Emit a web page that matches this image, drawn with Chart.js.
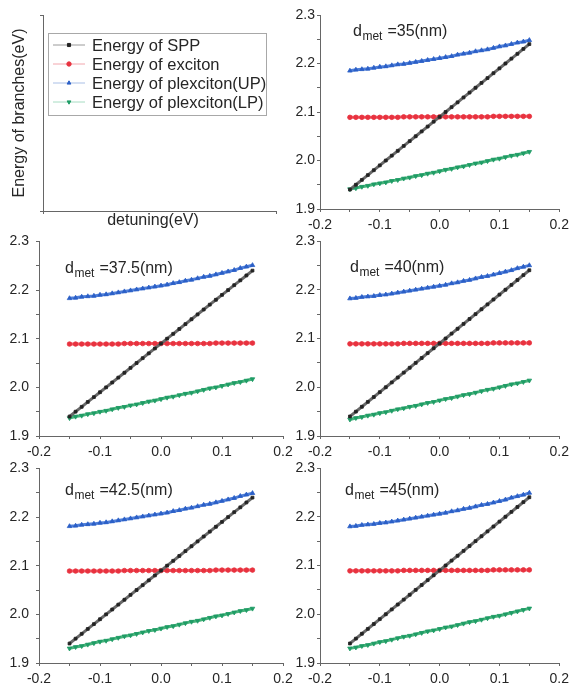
<!DOCTYPE html>
<html>
<head>
<meta charset="utf-8">
<script src="https://cdn.jsdelivr.net/npm/chart.js@4.4.1/dist/chart.umd.min.js"></script>
<style>
  html, body { margin: 0; padding: 0; background: #fff; overflow: hidden; }
  #wrap { position: relative; width: 574px; height: 684px; }
  canvas { position: absolute; }
</style>
</head>
<body>
<div id="wrap">
  <canvas id="legend-panel"></canvas>
  <canvas id="p35"></canvas>
  <canvas id="p37"></canvas>
  <canvas id="p40"></canvas>
  <canvas id="p42"></canvas>
  <canvas id="p45"></canvas>
</div>
<script>
// ==================================== data
const detuning = [-0.15, -0.14, -0.13, -0.12, -0.11, -0.10, -0.09, -0.08, -0.07, -0.06, -0.05, -0.04, -0.03, -0.02, -0.01, 0,
  0.01, 0.02, 0.03, 0.04, 0.05, 0.06, 0.07, 0.08, 0.09, 0.10, 0.11, 0.12, 0.13, 0.14, 0.15]

const energySPP = [1.94, 1.95, 1.96, 1.97, 1.98, 1.99, 2.00, 2.01, 2.02, 2.03, 2.04, 2.05, 2.06, 2.07, 2.08, 2.09,
  2.10, 2.11, 2.12, 2.13, 2.14, 2.15, 2.16, 2.17, 2.18, 2.19, 2.20, 2.21, 2.22, 2.23, 2.24]

const energyExciton = [2.089, 2.089, 2.089, 2.089, 2.089, 2.089, 2.089, 2.089, 2.089, 2.090, 2.090, 2.090, 2.090, 2.090, 2.090, 2.090,
  2.090, 2.090, 2.090, 2.090, 2.090, 2.090, 2.090, 2.090, 2.091, 2.091, 2.091, 2.091, 2.091, 2.091, 2.091]

const upper35 = [2.185, 2.187, 2.188, 2.189, 2.191, 2.193, 2.194, 2.196, 2.198, 2.199, 2.201, 2.203, 2.205, 2.207, 2.209, 2.211,
  2.213, 2.215, 2.218, 2.220, 2.222, 2.225, 2.227, 2.229, 2.232, 2.235, 2.237, 2.240, 2.243, 2.245, 2.248]
const lower35 = [1.941, 1.943, 1.946, 1.948, 1.951, 1.953, 1.955, 1.958, 1.960, 1.963, 1.965, 1.968, 1.970, 1.973, 1.975, 1.978,
  1.981, 1.983, 1.986, 1.988, 1.991, 1.994, 1.996, 1.999, 2.002, 2.004, 2.007, 2.010, 2.012, 2.015, 2.018]

const upper37_5 = [2.183, 2.184, 2.186, 2.187, 2.188, 2.190, 2.191, 2.193, 2.195, 2.197, 2.199, 2.201, 2.203, 2.205, 2.207, 2.209,
  2.211, 2.214, 2.216, 2.219, 2.221, 2.224, 2.227, 2.229, 2.232, 2.235, 2.238, 2.241, 2.245, 2.248, 2.251]
const lower37_5 = [1.937, 1.940, 1.942, 1.945, 1.947, 1.950, 1.952, 1.955, 1.958, 1.960, 1.963, 1.965, 1.968, 1.971, 1.973, 1.976,
  1.979, 1.981, 1.984, 1.987, 1.989, 1.992, 1.995, 1.998, 2.000, 2.003, 2.006, 2.009, 2.011, 2.014, 2.017]

const upper40 = [2.182, 2.183, 2.185, 2.186, 2.187, 2.189, 2.190, 2.192, 2.194, 2.196, 2.198, 2.200, 2.202, 2.204, 2.206, 2.208,
  2.210, 2.213, 2.215, 2.218, 2.220, 2.223, 2.226, 2.228, 2.231, 2.234, 2.237, 2.240, 2.244, 2.247, 2.250]
const lower40 = [1.934, 1.937, 1.939, 1.942, 1.944, 1.947, 1.949, 1.952, 1.955, 1.957, 1.960, 1.962, 1.965, 1.968, 1.970, 1.973,
  1.976, 1.978, 1.981, 1.984, 1.986, 1.989, 1.992, 1.995, 1.997, 2.000, 2.003, 2.006, 2.008, 2.011, 2.014]

const upper42_5 = [2.181, 2.182, 2.184, 2.185, 2.186, 2.188, 2.189, 2.191, 2.193, 2.195, 2.197, 2.199, 2.201, 2.203, 2.205, 2.207,
  2.209, 2.212, 2.214, 2.217, 2.219, 2.222, 2.225, 2.227, 2.230, 2.233, 2.236, 2.239, 2.243, 2.246, 2.249]
const lower42_5 = [1.930, 1.933, 1.935, 1.938, 1.941, 1.944, 1.946, 1.949, 1.952, 1.955, 1.957, 1.960, 1.963, 1.966, 1.968, 1.971,
  1.974, 1.976, 1.979, 1.982, 1.985, 1.987, 1.990, 1.993, 1.996, 1.998, 2.001, 2.004, 2.007, 2.009, 2.012]

const upper45 = [2.180, 2.181, 2.183, 2.184, 2.185, 2.187, 2.188, 2.190, 2.192, 2.194, 2.196, 2.198, 2.200, 2.202, 2.204, 2.206,
  2.208, 2.211, 2.213, 2.216, 2.218, 2.221, 2.224, 2.226, 2.229, 2.232, 2.235, 2.239, 2.242, 2.245, 2.249]
const lower45 = [1.930, 1.932, 1.935, 1.937, 1.940, 1.943, 1.945, 1.948, 1.951, 1.954, 1.956, 1.959, 1.962, 1.965, 1.967, 1.970,
  1.973, 1.975, 1.978, 1.981, 1.984, 1.986, 1.989, 1.992, 1.995, 1.997, 2.000, 2.003, 2.006, 2.009, 2.012]

const seriesNames = ['Energy of SPP', 'Energy of exciton', 'Energy of plexciton(UP)', 'Energy of plexciton(LP)']
const xTickLabels = ['-0.2', '-0.1', '0.0', '0.1', '0.2']
const yTickLabels = ['1.9', '2.0', '2.1', '2.2', '2.3']

// ==================================== styles / layout
const FONT = '"Liberation Sans", Arial, Helvetica, sans-serif'
const TEXT = '#262626'
const AXIS = '#666'

const seriesStyles = [
  { color: '#232323', line: 'rgba(90,90,90,0.9)', legendLine: '#9a9a9a', pointStyle: 'rect', radius: 2, rotation: 0 },
  { color: '#e8323f', line: 'rgba(240,90,100,0.95)', legendLine: '#f2a6ad', pointStyle: 'circle', radius: 2.3, rotation: 0 },
  { color: '#2b5fc7', line: 'rgba(70,120,215,0.95)', legendLine: '#a9bfe6', pointStyle: 'triangle', radius: 2.6, rotation: 0 },
  { color: '#1f9c66', line: 'rgba(60,175,115,0.95)', legendLine: '#a6dcc2', pointStyle: 'triangle', radius: 2.6, rotation: 180 },
]

const panels = [
  { id: 'p35', value: '35', up: upper35, lp: lower35, left: 287, top: 0, width: 287, yAxisW: 33, tickPad: 2, padRight: 11, plotH: 194, dx: 33, dy: 21 },
  { id: 'p37', value: '37.5', up: upper37_5, lp: lower37_5, left: 0, top: 226, width: 300, yAxisW: 39, tickPad: 7, padRight: 17, plotH: 195, dx: 26, dy: 32 },
  { id: 'p40', value: '40', up: upper40, lp: lower40, left: 287, top: 226, width: 287, yAxisW: 33, tickPad: 2, padRight: 11, plotH: 195, dx: 30, dy: 31 },
  { id: 'p42', value: '42.5', up: upper42_5, lp: lower42_5, left: 0, top: 453, width: 300, yAxisW: 39, tickPad: 7, padRight: 17, plotH: 195, dx: 26, dy: 27 },
  { id: 'p45', value: '45', up: upper45, lp: lower45, left: 287, top: 453, width: 287, yAxisW: 33, tickPad: 2, padRight: 11, plotH: 195, dx: 25, dy: 27 },
]

const PAD_TOP = 15
const X_AXIS_H = 24

function placeCanvas(canvas, left, top, width, height) {
  canvas.width = width
  canvas.height = height
  canvas.style.left = left + 'px'
  canvas.style.top = top + 'px'
  canvas.style.width = width + 'px'
  canvas.style.height = height + 'px'
}

function tickLabel(value, labels, min) {
  const idx = Math.round((value - min) * 10)
  if (Math.abs((value - min) * 10 - idx) > 1e-6) return ''
  return labels[idx] ?? ''
}

// d_met label inside each panel
const panelLabel = {
  id: 'panelLabel',
  afterDraw(chart, args, opts) {
    const { ctx, chartArea } = chart
    let x = chartArea.left + opts.dx
    const y = chartArea.top + opts.dy
    ctx.save()
    ctx.fillStyle = TEXT
    ctx.textBaseline = 'alphabetic'
    ctx.font = `16px ${FONT}`
    ctx.fillText('d', x, y)
    x += ctx.measureText('d').width + 0.5
    ctx.font = `12px ${FONT}`
    ctx.fillText('met', x, y + 4)
    x += ctx.measureText('met').width + 5
    ctx.font = `16px ${FONT}`
    ctx.fillText('=' + opts.value + '(nm)', x, y)
    ctx.restore()
  }
}

function makeDataset(label, values, style) {
  return {
    label,
    data: detuning.map((d, i) => ({ x: d, y: values[i] })),
    borderColor: style.line,
    borderWidth: 3,
    backgroundColor: style.color,
    pointBorderColor: style.color,
    pointBackgroundColor: style.color,
    pointStyle: style.pointStyle,
    pointRotation: style.rotation,
    pointRadius: style.radius,
    pointBorderWidth: 0.8,
    tension: 0,
  }
}

panels.forEach(p => {
  const canvas = document.getElementById(p.id)
  placeCanvas(canvas, p.left, p.top, p.width, PAD_TOP + p.plotH + X_AXIS_H)
  const series = [energySPP, energyExciton, p.up, p.lp]
  new Chart(canvas, {
    type: 'line',
    data: { datasets: series.map((s, i) => makeDataset(seriesNames[i], s, seriesStyles[i])) },
    plugins: [panelLabel],
    options: {
      responsive: false,
      animation: false,
      layout: { autoPadding: false, padding: { top: PAD_TOP, right: p.padRight, left: 0, bottom: 0 } },
      plugins: {
        legend: { display: false },
        tooltip: { enabled: false },
        panelLabel: { dx: p.dx, dy: p.dy, value: p.value },
      },
      scales: {
        x: {
          type: 'linear',
          min: -0.2,
          max: 0.2,
          afterFit: s => { s.height = X_AXIS_H },
          border: { display: true, color: AXIS, width: 1 },
          grid: { drawOnChartArea: false, drawTicks: true, tickLength: 3, tickColor: AXIS },
          ticks: {
            stepSize: 0.05,
            autoSkip: false,
            maxRotation: 0,
            padding: 5,
            color: TEXT,
            font: { family: FONT, size: 14 },
            callback: v => tickLabel(v, xTickLabels, -0.2),
          },
        },
        y: {
          min: 1.9,
          max: 2.3,
          afterFit: s => { s.width = p.yAxisW },
          border: { display: true, color: AXIS, width: 1 },
          grid: { drawOnChartArea: false, drawTicks: true, tickLength: 3, tickColor: AXIS },
          ticks: {
            stepSize: 0.05,
            autoSkip: false,
            padding: p.tickPad,
            color: TEXT,
            font: { family: FONT, size: 14 },
            callback: v => tickLabel(v, yTickLabels, 1.9),
          },
        },
      },
    },
  })
})

// ==================================== legend panel (top-left)
const legendBox = {
  id: 'legendBox',
  afterDraw(chart) {
    const { ctx, chartArea } = chart
    ctx.save()
    // axis titles
    ctx.fillStyle = TEXT
    ctx.font = `16px ${FONT}`
    ctx.textAlign = 'center'
    ctx.textBaseline = 'middle'
    ctx.fillText('detuning(eV)', 153, 221)
    ctx.translate(20, (chartArea.top + chartArea.bottom) / 2)
    ctx.rotate(-Math.PI / 2)
    ctx.fillText('Energy of branches(eV)', 0, 0)
    ctx.setTransform(1, 0, 0, 1, 0, 0)

    // legend frame
    ctx.strokeStyle = '#a8a8a8'
    ctx.lineWidth = 1
    ctx.strokeRect(48.5, 33.5, 218, 82)
    ctx.textAlign = 'left'
    ctx.font = `16.5px ${FONT}`
    chart.data.datasets.forEach((ds, i) => {
      const st = seriesStyles[i]
      const y = 45 + i * 19
      ctx.strokeStyle = st.legendLine
      ctx.beginPath()
      ctx.moveTo(53, y)
      ctx.lineTo(85, y)
      ctx.stroke()
      ctx.fillStyle = st.color
      ctx.strokeStyle = st.color
      Chart.helpers.drawPoint(ctx, { pointStyle: st.pointStyle, rotation: st.rotation, radius: 2.2, borderWidth: 0.5 }, 69, y)
      ctx.fillStyle = TEXT
      ctx.fillText(ds.label, 92, y + 1)
    })
    ctx.restore()
  }
}

const legendCanvas = document.getElementById('legend-panel')
placeCanvas(legendCanvas, 0, 0, 287, PAD_TOP + 196 + X_AXIS_H)
new Chart(legendCanvas, {
  type: 'line',
  data: { datasets: seriesNames.map(name => ({ label: name, data: [] })) },
  plugins: [legendBox],
  options: {
    responsive: false,
    animation: false,
    layout: { autoPadding: false, padding: { top: PAD_TOP, right: 11, left: 0, bottom: 0 } },
    plugins: { legend: { display: false }, tooltip: { enabled: false } },
    scales: {
      x: {
        type: 'linear', min: 0, max: 1,
        afterFit: s => { s.height = X_AXIS_H },
        border: { display: true, color: AXIS, width: 1 },
        grid: { drawOnChartArea: false, tickLength: 3, tickColor: AXIS },
        ticks: { display: false, stepSize: 1 },
      },
      y: {
        min: 0, max: 1,
        afterFit: s => { s.width = 43 },
        border: { display: true, color: AXIS, width: 1 },
        grid: { drawOnChartArea: false, tickLength: 3, tickColor: AXIS },
        ticks: { display: false, stepSize: 1 },
      },
    },
  },
})
</script>
</body>
</html>
